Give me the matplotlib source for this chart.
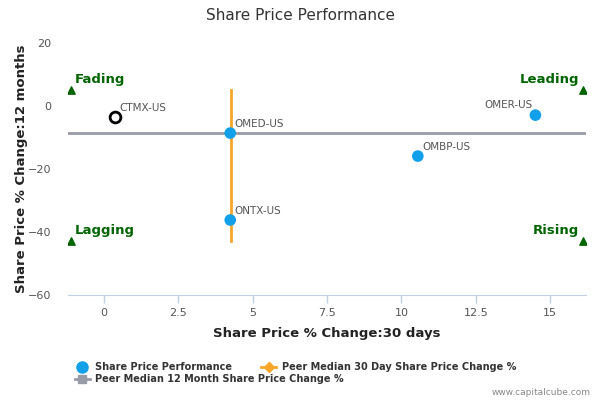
import matplotlib.pyplot as plt
from matplotlib.lines import Line2D

# data
tickers = ['OMED-US', 'ONTX-US', 'OMBP-US', 'OMER-US']
chg_30d = [4.25, 4.25, 10.55, 14.5]
chg_12m = [-8.6, -36.2, -15.9, -2.9]

focus_ticker = 'CTMX-US'
focus_30d = 0.37
focus_12m = -3.5

median_30d = 4.28
median_12m = -8.6

x_min, x_max = -1.2, 16.2
quad_x = [-1.1, 16.1]
quad_y = [5.0, -43.0]
quad_labels = ['Fading', 'Leading', 'Lagging', 'Rising']

x_ticks = [0, 2.5, 5, 7.5, 10, 12.5, 15]
x_tick_labels = ['0', '2.5', '5', '7.5', '10', '12.5', '15']
y_ticks = [20, 0, -20, -40, -60]

blue = '#12a0ea'
orange = '#f7a628'
gray = '#989ba8'
green = '#006400'
text_gray = '#555555'

fig = plt.figure(figsize=(6, 4), dpi=100)
ax = fig.add_axes([0.1133, 0.2625, 0.8634, 0.63])

# peer median lines
ax.plot([x_min, x_max], [median_12m, median_12m], color=gray, lw=2, zorder=2)
ax.plot([median_30d, median_30d], [quad_y[0], quad_y[1]], color=orange, lw=2, zorder=2)

# peers
ax.scatter(chg_30d, chg_12m, s=70, color=blue, zorder=3, edgecolors='none')
for t, x, y in zip(tickers, chg_30d, chg_12m):
    if t == 'OMER-US':
        ax.annotate(t, (x, y), xytext=(-2, 4), textcoords='offset points',
                    ha='right', va='bottom', fontsize=7.5, color=text_gray)
    else:
        ax.annotate(t, (x, y), xytext=(3, 3), textcoords='offset points',
                    ha='left', va='bottom', fontsize=7.5, color=text_gray)

# the company itself
ax.scatter([focus_30d], [focus_12m], s=60, facecolors='white', edgecolors='black',
           linewidths=2, zorder=4)
ax.annotate(focus_ticker, (focus_30d, focus_12m), xytext=(3, 3), textcoords='offset points',
            ha='left', va='bottom', fontsize=7.5, color=text_gray)

# quadrant markers
k = 0
for qy in quad_y:
    for qx in quad_x:
        ax.scatter([qx], [qy], marker='^', s=28, color=green, zorder=3)
        if qx < 0:
            ax.annotate(quad_labels[k], (qx, qy), xytext=(3, 3), textcoords='offset points',
                        ha='left', va='bottom', fontsize=9.5, color=green, fontweight='bold')
        else:
            ax.annotate(quad_labels[k], (qx, qy), xytext=(-3, 3), textcoords='offset points',
                        ha='right', va='bottom', fontsize=9.5, color=green, fontweight='bold')
        k += 1

ax.set_xlim(x_min, x_max)
ax.set_ylim(-60, 20)
ax.set_xticks(x_ticks)
ax.set_xticklabels(x_tick_labels)
ax.set_yticks(y_ticks)
ax.tick_params(axis='x', colors='#c0d0e0', labelcolor=text_gray, labelsize=8, length=6, width=1)
ax.tick_params(axis='y', length=0, labelcolor=text_gray, labelsize=8, pad=12)
for s in ['top', 'right', 'left']:
    ax.spines[s].set_visible(False)
ax.spines['bottom'].set_color('#c0d0e0')

ax.set_xlabel('Share Price % Change:30 days', fontsize=9.5, fontweight='bold', color='#222222', labelpad=6)
ax.set_ylabel('Share Price % Change:12 months', fontsize=9.5, fontweight='bold', color='#222222')
ax.yaxis.set_label_coords(-0.077, 0.5)
fig.text(0.5, 0.96, 'Share Price Performance', ha='center', va='center', fontsize=11, color='#333333')

# legend (ncol=2 fills by column, so order is blue, gray | orange)
handles = [
    Line2D([], [], marker='o', color=blue, lw=0, markersize=8),
    Line2D([], [], marker='s', color=gray, lw=2, markersize=6),
    Line2D([], [], marker='D', color=orange, lw=2, markersize=5),
]
labels = ['Share Price Performance', 'Peer Median 12 Month Share Price Change %',
          'Peer Median 30 Day Share Price Change %']
leg = fig.legend(handles, labels, loc='upper left', bbox_to_anchor=(0.125, 0.095), ncol=2,
                 frameon=False, fontsize=7, handlelength=1.5, handletextpad=0.6,
                 columnspacing=-8.5, labelspacing=0.2, borderaxespad=0, borderpad=0)
for t in leg.get_texts():
    t.set_fontweight('bold')
    t.set_color('#333333')

fig.text(0.985, 0.008, 'www.capitalcube.com', ha='right', va='bottom', fontsize=6.5, color='#888888')

fig.savefig('out.png', dpi=100)
